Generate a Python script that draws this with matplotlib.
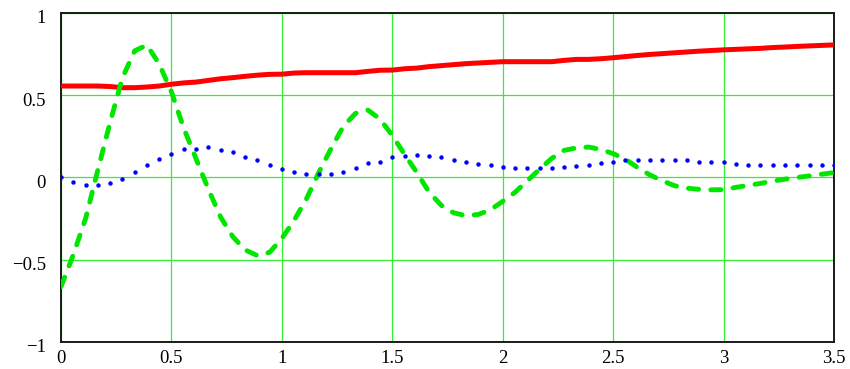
import numpy as np
import matplotlib
matplotlib.use("Agg")
import matplotlib.pyplot as plt
from matplotlib.transforms import ScaledTranslation

# sample grid: 64 points over [0, 3.5]
t = np.linspace(0.0, 3.5, 64)

red_curve = [0.556, 0.556, 0.556, 0.556, 0.553, 0.546, 0.546, 0.550, 0.556, 0.567,
             0.575, 0.580, 0.590, 0.600, 0.607, 0.615, 0.622, 0.627, 0.628, 0.635,
             0.637, 0.637, 0.637, 0.637, 0.637, 0.645, 0.652, 0.653, 0.661, 0.665,
             0.674, 0.680, 0.686, 0.692, 0.696, 0.700, 0.704, 0.704, 0.704, 0.704,
             0.704, 0.712, 0.718, 0.718, 0.722, 0.728, 0.735, 0.742, 0.748, 0.753,
             0.758, 0.763, 0.768, 0.772, 0.776, 0.779, 0.782, 0.785, 0.790, 0.793,
             0.797, 0.800, 0.803, 0.806]

green_curve = [-0.664, -0.470, -0.250, 0.045, 0.335, 0.605, 0.770, 0.805, 0.690, 0.520,
               0.300, 0.115, -0.070, -0.240, -0.360, -0.440, -0.475, -0.455, -0.370, -0.260,
               -0.130, 0.030, 0.175, 0.310, 0.390, 0.410, 0.355, 0.255, 0.140, 0.030,
               -0.090, -0.170, -0.215, -0.232, -0.225, -0.196, -0.145, -0.090, -0.020, 0.050,
               0.117, 0.165, 0.180, 0.185, 0.170, 0.145, 0.110, 0.060, 0.015, -0.020,
               -0.050, -0.065, -0.072, -0.075, -0.074, -0.060, -0.048, -0.036, -0.022, -0.010,
               0.000, 0.010, 0.020, 0.030]

blue_curve = [0.005, -0.025, -0.046, -0.046, -0.035, -0.007, 0.033, 0.074, 0.112, 0.145,
              0.173, 0.173, 0.185, 0.165, 0.153, 0.125, 0.105, 0.076, 0.053, 0.033,
              0.023, 0.020, 0.023, 0.033, 0.056, 0.086, 0.094, 0.127, 0.131, 0.137,
              0.133, 0.127, 0.105, 0.094, 0.084, 0.076, 0.066, 0.056, 0.056, 0.056,
              0.056, 0.066, 0.072, 0.076, 0.086, 0.094, 0.105, 0.105, 0.105, 0.105,
              0.105, 0.105, 0.094, 0.094, 0.094, 0.084, 0.076, 0.076, 0.076, 0.076,
              0.076, 0.076, 0.076, 0.076]

x_ticks = [0, 0.5, 1, 1.5, 2, 2.5, 3, 3.5]
x_labels = ["0", "0.5", "1", "1.5", "2", "2.5", "3", "3.5"]
y_ticks = [-1, -0.5, 0, 0.5, 1]
y_labels = ["\u22121", "\u22120.5", "0", "0.5", "1"]

fig = plt.figure(figsize=(8.5, 3.69), dpi=100)
ax = fig.add_axes([0.0718, 0.0732, 0.9095, 0.8916])

ax.plot(t, red_curve, color="#ff0000", lw=3.6, solid_capstyle="butt", zorder=3)
ax.plot(t, green_curve, color="#00e600", lw=3.5, linestyle=(0, (2.1, 2.5)),
        dash_capstyle="round", zorder=4)
ax.plot(t, blue_curve, linestyle="none", marker="o", ms=3.2, mew=0,
        color="#0000ff", zorder=5)

ax.set_xlim(0, 3.5)
ax.set_ylim(-1, 1)
label_font = {"family": "Liberation Serif", "size": 13.5}
ax.set_xticks(x_ticks)
ax.set_xticklabels(x_labels, fontdict=label_font)
ax.set_yticks(y_ticks)
ax.set_yticklabels(y_labels, fontdict=label_font)
ax.tick_params(length=0)
ax.tick_params(axis="x", pad=6)
ax.tick_params(axis="y", pad=11)

# y labels sit a little below their grid lines
shift = ScaledTranslation(0, -4 / 100, fig.dpi_scale_trans)
for lab in ax.get_yticklabels():
    lab.set_transform(lab.get_transform() + shift)

ax.grid(True, color="#33ee33", lw=0.9)
ax.set_axisbelow(True)
for sp in ax.spines.values():
    sp.set_color("#1a1a1a")
    sp.set_linewidth(1.4)

fig.savefig("out.png", dpi=100)
